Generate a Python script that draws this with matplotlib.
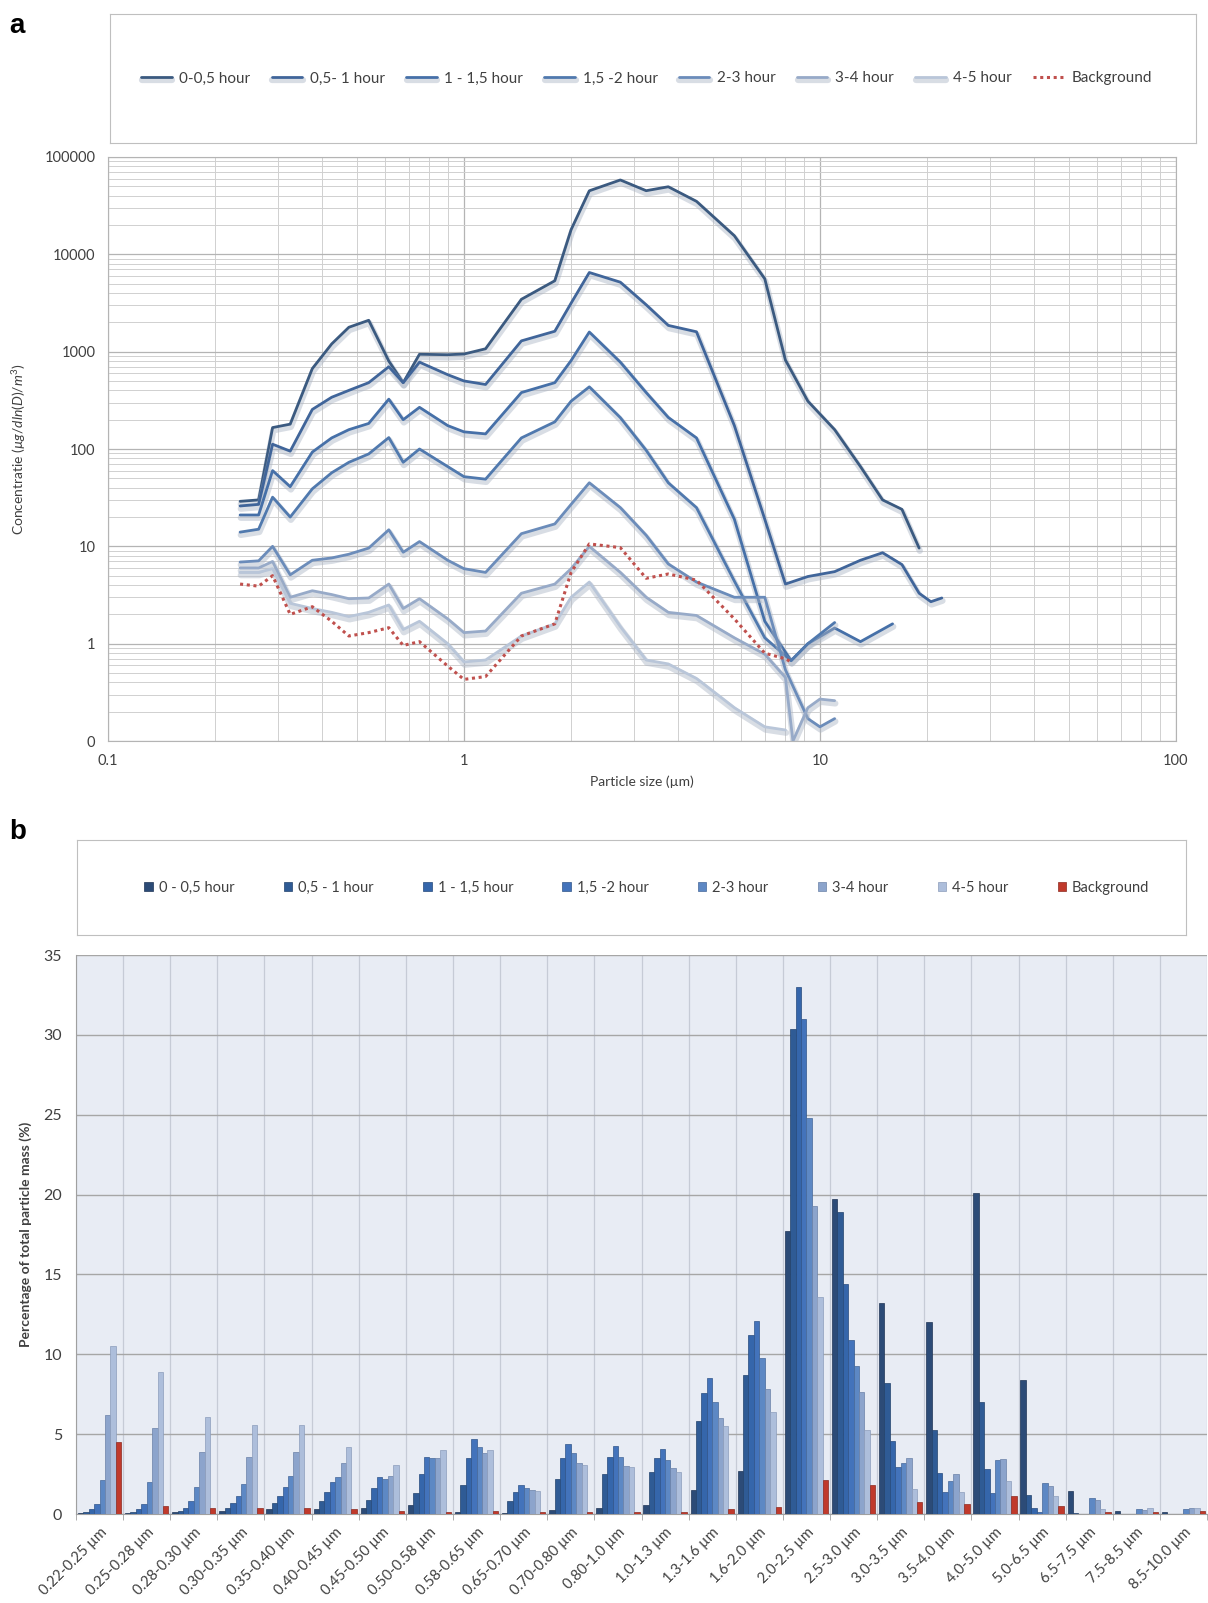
import numpy as np
import matplotlib
matplotlib.use("Agg")
import matplotlib.pyplot as plt
import matplotlib.patheffects as pe
from matplotlib.patches import Patch

plt.rcParams['font.family'] = ['Lato', 'DejaVu Sans']
plt.rcParams['mathtext.fontset'] = 'custom'
plt.rcParams['mathtext.rm'] = 'Lato'
plt.rcParams['mathtext.it'] = 'Lato:italic'

# ---------- panel a : size distributions ----------
size_base = [0.235, 0.265, 0.29, 0.325, 0.375, 0.425, 0.475, 0.54, 0.615, 0.675, 0.75,
             0.9, 1.0, 1.15, 1.45, 1.8, 2.0, 2.25, 2.75, 3.25, 3.75, 4.5, 5.75, 7]

c1_base = [29, 30, 166, 180, 670, 1200, 1780, 2100, 800, 480, 940, 930, 945, 1070, 3450,
           5350, 17900, 44900, 58000, 45000, 49400, 35000, 15500, 5600]
c1_tail_x = [8, 9.25, 11, 13, 15, 17, 19]
c1_tail_y = [820, 310, 158, 66, 30, 24, 9.6]

c2_base = [26, 27, 112, 95, 255, 340, 400, 480, 700, 480, 780, 580, 500, 460, 1290, 1620,
           3150, 6500, 5170, 3030, 1860, 1600, 174, 19]
c2_tail_x = [8, 9.25, 11, 13, 15, 17, 19, 20.5, 22]
c2_tail_y = [4.1, 4.9, 5.5, 7.2, 8.6, 6.5, 3.3, 2.7, 2.95]

c3_base = [21, 21, 60, 41, 93, 130, 158, 183, 325, 200, 268, 174, 150, 143, 380, 480, 810,
           1590, 780, 380, 211, 130, 19, 1.7]
c3_tail_x = [8.3, 9.25, 11, 13, 16]
c3_tail_y = [0.67, 1.0, 1.45, 1.05, 1.6]

c4_base = [14, 15, 32, 20, 39, 57, 73, 89, 131, 73, 100, 66, 52, 49, 130, 190, 310, 435,
           210, 97, 45, 25, 4.4, 1.15]
c4_tail_x = [8.3, 9.25, 11]
c4_tail_y = [0.67, 1.0, 1.65]

c5_base = [6.9, 7.1, 10, 5.1, 7.2, 7.6, 8.3, 9.6, 14.8, 8.7, 11.2, 7.2, 5.9, 5.4, 13.5, 17,
           27, 45, 25, 13, 6.6, 4.3, 3.0, 3.0]
c5_tail_x = [8, 9.25, 10, 11]
c5_tail_y = [0.54, 0.17, 0.14, 0.17]

c6_base = [6.0, 6.0, 7.0, 3.0, 3.5, 3.2, 2.9, 2.95, 4.1, 2.3, 2.9, 1.8, 1.3, 1.35, 3.3, 4.1,
           5.9, 10, 5.4, 3.0, 2.1, 1.95, 1.15, 0.78]
c6_tail_x = [8, 8.4, 9.25, 10, 11]
c6_tail_y = [0.45, 0.1, 0.22, 0.27, 0.26]

c7_base = [5.4, 5.4, 5.9, 2.6, 2.3, 2.1, 1.9, 2.1, 2.5, 1.4, 1.7, 1.0, 0.65, 0.68, 1.2, 1.6,
           3.0, 4.3, 1.5, 0.68, 0.62, 0.44, 0.22, 0.14]
c7_tail_x = [8]
c7_tail_y = [0.13]

bg_base = [4.1, 3.9, 5.0, 2.0, 2.4, 1.7, 1.2, 1.3, 1.46, 0.96, 1.05, 0.59, 0.43, 0.46, 1.2,
           1.6, 5.4, 10.6, 9.7, 4.7, 5.2, 4.5, 1.8, 0.8]
bg_tail_x = [8, 8.3]
bg_tail_y = [0.7, 0.65]

labels_a = ['0-0,5 hour', '0,5- 1 hour', '1 - 1,5 hour', '1,5 -2 hour', '2-3 hour',
            '3-4 hour', '4-5 hour', 'Background']
colors_a = ['#3b5a80', '#40659a', '#4670a8', '#5079ae', '#6b8cba', '#97aac8', '#b9c6d9']

ytick_vals_a = [0.1, 1, 10, 100, 1000, 10000, 100000]
ytick_labels_a = ['0', '1', '10', '100', '1000', '10000', '100000']
xtick_vals_a = [0.1, 1, 10, 100]
xtick_labels_a = ['0.1', '1', '10', '100']

# ---------- panel b : mass fractions ----------
bins_b = ['0.22-0.25 µm', '0.25-0.28 µm', '0.28-0.30 µm', '0.30-0.35 µm', '0.35-0.40 µm',
          '0.40-0.45 µm', '0.45-0.50 µm', '0.50-0.58 µm', '0.58-0.65 µm', '0.65-0.70 µm',
          '0.70-0.80 µm', '0.80-1.0 µm', '1.0-1.3 µm', '1.3-1.6 µm', '1.6-2.0 µm',
          '2.0-2.5 µm', '2.5-3.0 µm', '3.0-3.5 µm', '3.5-4.0 µm', '4.0-5.0 µm',
          '5.0-6.5 µm', '6.5-7.5 µm', '7.5-8.5 µm', '8.5-10.0 µm']
b_s1 = [0.05, 0.05, 0.1, 0.2, 0.3, 0.3, 0.4, 0.55, 0.1, 0.05, 0.25, 0.4, 0.55, 1.5, 2.7,
        17.7, 19.7, 13.2, 12.0, 20.1, 8.4, 1.45, 0.2, 0.15]
b_s2 = [0.1, 0.1, 0.2, 0.4, 0.7, 0.8, 0.9, 1.3, 1.8, 0.8, 2.2, 2.5, 2.65, 5.8, 8.7,
        30.4, 18.9, 8.2, 5.25, 7.0, 1.2, 0.05, 0.02, 0.02]
b_s3 = [0.3, 0.3, 0.4, 0.7, 1.1, 1.4, 1.6, 2.5, 3.5, 1.4, 3.5, 3.6, 3.5, 7.6, 11.2,
        33.0, 14.4, 4.6, 2.55, 2.8, 0.35, 0.02, 0.02, 0.02]
b_s4 = [0.6, 0.6, 0.8, 1.1, 1.7, 2.0, 2.3, 3.6, 4.7, 1.8, 4.4, 4.25, 4.05, 8.5, 12.1,
        31.0, 10.9, 2.95, 1.4, 1.33, 0.15, 0.02, 0.02, 0.02]
b_s5 = [2.1, 2.0, 1.7, 1.9, 2.4, 2.3, 2.2, 3.5, 4.2, 1.6, 3.8, 3.6, 3.4, 7.0, 9.8,
        24.8, 9.3, 3.2, 2.05, 3.4, 1.95, 0.98, 0.3, 0.3]
b_s6 = [6.2, 5.4, 3.9, 3.6, 3.9, 3.2, 2.4, 3.5, 3.8, 1.5, 3.2, 3.0, 2.9, 6.0, 7.85,
        19.3, 7.65, 3.5, 2.5, 3.45, 1.75, 0.88, 0.25, 0.35]
b_s7 = [10.5, 8.9, 6.1, 5.6, 5.6, 4.2, 3.1, 4.0, 4.0, 1.45, 3.1, 2.95, 2.65, 5.5, 6.4,
        13.6, 5.25, 1.55, 1.4, 2.05, 1.1, 0.3, 0.35, 0.35]
b_bg = [4.5, 0.5, 0.4, 0.4, 0.4, 0.3, 0.2, 0.15, 0.2, 0.1, 0.15, 0.15, 0.1, 0.3, 0.45,
        2.1, 1.8, 0.73, 0.63, 1.1, 0.5, 0.15, 0.1, 0.2]

labels_b = ['0 - 0,5 hour', '0,5 - 1 hour', '1 - 1,5 hour', '1,5 -2 hour', '2-3 hour',
            '3-4 hour', '4-5 hour', 'Background']
colors_b = ['#2c4b77', '#2f5b95', '#3566ab', '#4373bb', '#5d88c4', '#8ca4cc', '#adbedb',
            '#c0392b']
edges_b = ['#1f3556', '#22426c', '#264a7c', '#30558a', '#46689a', '#6b82a8', '#8c9dbb',
           '#8c2a20']

fig = plt.figure(figsize=(12.08, 16.03), dpi=100)

fig.text(0.008, 0.984, 'a', fontsize=20, fontweight='bold', family='Liberation Sans', va='center')
fig.text(0.008, 0.481, 'b', fontsize=20, fontweight='bold', family='Liberation Sans', va='center')

# --- panel a
ax = fig.add_axes([0.0894, 0.5377, 0.8840, 0.3644])
ax.set_xscale('log')
ax.set_yscale('log')
ax.set_xlim(0.1, 100)
ax.set_ylim(0.1, 100000)

shadow = [pe.SimpleLineShadow(offset=(0.5, -2.0), shadow_color='#aab4c4', alpha=0.45,
                              linewidth=4.5), pe.Normal()]
curves = [(c1_base, c1_tail_x, c1_tail_y), (c2_base, c2_tail_x, c2_tail_y),
          (c3_base, c3_tail_x, c3_tail_y), (c4_base, c4_tail_x, c4_tail_y),
          (c5_base, c5_tail_x, c5_tail_y), (c6_base, c6_tail_x, c6_tail_y),
          (c7_base, c7_tail_x, c7_tail_y)]
handles_a = []
for (base, tx, ty), col, lab in zip(curves, colors_a, labels_a):
    h, = ax.plot(size_base + tx, base + ty, color=col, lw=2.0, label=lab,
                 solid_joinstyle='round', solid_capstyle='round', path_effects=shadow, zorder=3)
    handles_a.append(h)
h, = ax.plot(size_base + bg_tail_x, bg_base + bg_tail_y, color='#c0504d', lw=2.2,
             ls=(0, (1, 1.2)), label=labels_a[7], zorder=4)
handles_a.append(h)

ax.set_yticks(ytick_vals_a)
ax.set_yticklabels(ytick_labels_a)
ax.set_xticks(xtick_vals_a)
ax.set_xticklabels(xtick_labels_a)
ax.yaxis.set_minor_locator(matplotlib.ticker.LogLocator(base=10, subs=np.arange(2, 10)))
ax.xaxis.set_minor_locator(matplotlib.ticker.LogLocator(base=10, subs=np.arange(2, 10)))
ax.yaxis.set_minor_formatter(matplotlib.ticker.NullFormatter())
ax.xaxis.set_minor_formatter(matplotlib.ticker.NullFormatter())
ax.grid(which='major', color='#b4b4b4', lw=0.9)
ax.grid(which='minor', color='#d0d0d0', lw=0.7)
ax.set_axisbelow(True)
ax.tick_params(which='both', length=0, labelsize=10.5, labelcolor='#404040', pad=9)
for s in ax.spines.values():
    s.set_color('#b4b4b4')
ax.set_xlabel('Particle size (µm)', fontsize=10, color='#404040', labelpad=6)
ax.set_ylabel(r'Concentratie $\mathit{(µg/dln(D)/m^3)}$', fontsize=10, color='#404040',
              labelpad=12)

lax = fig.add_axes([0.0911, 0.9108, 0.8990, 0.0805])
lax.set_xticks([])
lax.set_yticks([])
for s in lax.spines.values():
    s.set_color('#bfbfbf')
lax.legend(handles_a, labels_a, loc='center', ncol=8, frameon=False, fontsize=11,
           handlelength=2.0, handletextpad=0.5, mode='expand',
           bbox_to_anchor=(0.016, 0.3, 0.956, 0.4), labelcolor='#404040')

# --- panel b
bx = fig.add_axes([0.0629, 0.0555, 0.9363, 0.3487])
series_b = [b_s1, b_s2, b_s3, b_s4, b_s5, b_s6, b_s7, b_bg]
xpos = np.arange(len(bins_b))
w = 0.92 / len(series_b)
handles_b = []
for i, (vals, col, ec) in enumerate(zip(series_b, colors_b, edges_b)):
    bx.bar(xpos + (i - 3.5) * w, vals, width=w, color=col, edgecolor=ec, linewidth=0.5,
           zorder=3)
    handles_b.append(Patch(facecolor=col, edgecolor=ec, linewidth=0.5))
bx.set_facecolor('#e8ecf4')
bx.set_xlim(-0.5, len(bins_b) - 0.5)
bx.set_ylim(0, 35)
bx.set_yticks(np.arange(0, 36, 5))
bx.set_xticks(xpos)
bx.set_xticklabels(bins_b, rotation=45, ha='right', rotation_mode='anchor')
bx.set_xticks(np.arange(-0.5, len(bins_b), 1), minor=True)
bx.grid(axis='y', which='major', color='#a6a6a6', lw=1.0)
bx.grid(axis='x', which='minor', color='#c6cbd6', lw=0.9)
bx.set_axisbelow(True)
bx.tick_params(axis='x', which='major', length=0, labelsize=10.5, labelcolor='#404040', pad=8)
bx.tick_params(axis='x', which='minor', length=4, color='#a0a0a0')
bx.tick_params(axis='y', length=0, labelsize=11.5, labelcolor='#404040', pad=10)
for k in ['top', 'right']:
    bx.spines[k].set_visible(False)
for k in ['left', 'bottom']:
    bx.spines[k].set_color('#a0a0a0')
bx.set_ylabel('Percentage of total particle mass (%)', fontsize=10, fontweight='bold',
              color='#404040', labelpad=8)

lbx = fig.add_axes([0.0637, 0.4167, 0.9180, 0.0593])
lbx.set_xticks([])
lbx.set_yticks([])
for s in lbx.spines.values():
    s.set_color('#bfbfbf')
lbx.legend(handles_b, labels_b, loc='center', ncol=8, frameon=False, fontsize=10.5,
           handlelength=0.6, handleheight=0.6, handletextpad=0.4, mode='expand',
           bbox_to_anchor=(0.049, 0.3, 0.930, 0.4), labelcolor='#404040')

fig.savefig('out.png', dpi=100)
